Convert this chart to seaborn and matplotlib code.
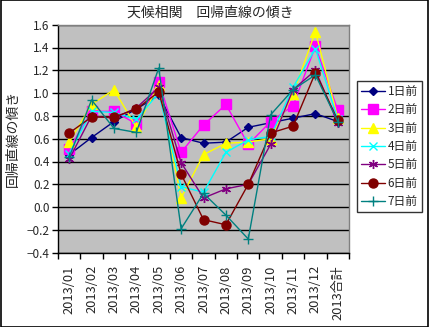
import matplotlib
matplotlib.use("Agg")
import matplotlib.pyplot as plt
import seaborn as sns
import pandas as pd
import numpy as np
from matplotlib.patches import Rectangle

categories = ["2013/01", "2013/02", "2013/03", "2013/04", "2013/05", "2013/06", "2013/07",
              "2013/08", "2013/09", "2013/10", "2013/11", "2013/12", "2013合計"]
s1 = [0.46, 0.61, 0.75, 0.86, 0.98, 0.61, 0.56, 0.57, 0.70, 0.74, 0.78, 0.82, 0.75]
s2 = [0.51, 0.84, 0.84, 0.73, 1.10, 0.48, 0.72, 0.90, 0.55, 0.75, 0.89, 1.41, 0.85]
s3 = [0.57, 0.90, 1.03, 0.70, 1.07, 0.08, 0.46, 0.56, 0.57, 0.60, 0.99, 1.54, 0.78]
s4 = [0.47, 0.84, 0.83, 0.77, 1.00, 0.18, 0.13, 0.48, 0.59, 0.62, 1.05, 1.39, 0.77]
s5 = [0.42, 0.80, 0.78, 0.87, 1.05, 0.39, 0.08, 0.16, 0.20, 0.55, 1.03, 1.20, 0.74]
s6 = [0.65, 0.79, 0.79, 0.86, 1.01, 0.29, -0.11, -0.155, 0.20, 0.65, 0.71, 1.18, 0.76]
s7 = [0.44, 0.94, 0.69, 0.655, 1.22, -0.19, 0.12, -0.07, -0.28, 0.81, 1.03, 1.16, 0.75]
series_names = ["1日前", "2日前", "3日前", "4日前", "5日前", "6日前", "7日前"]
series_values = [s1, s2, s3, s4, s5, s6, s7]

title = "天候相関　回帰直線の傾き"
ylabel = "回帰直線の傾き"

sns.set_theme(style="white")
plt.rcParams['font.family'] = ['Noto Sans CJK JP', 'DejaVu Sans']
plt.rcParams['axes.unicode_minus'] = True

colors = ["#000080", "#FF00FF", "#FFFF00", "#00FFFF", "#800080", "#800000", "#008080"]
markers = ["D", "s", "^", "x", (6, 2, 0), "o", "+"]
msizes = [4.5, 6.5, 6.5, 5.5, 6.5, 6.5, 7]

fig = plt.figure(figsize=(4.29, 3.27), dpi=100)
ax = fig.add_axes([58/429, 1-252.7/327, (349-58)/429, (252.7-24.7)/327])
ax.set_facecolor("#C0C0C0")

x = np.arange(len(categories))
for name, vals, c, m, ms in zip(series_names, series_values, colors, markers, msizes):
    df = pd.DataFrame({"x": x, "y": vals})
    sns.lineplot(data=df, x="x", y="y", ax=ax, color=c, marker=m, markersize=ms,
                 markeredgecolor=c, markerfacecolor=c, markeredgewidth=1.0,
                 linewidth=1.0, label=name, legend=False)

ax.set_xlim(-0.5, len(categories) - 0.5)
ax.set_ylim(-0.4, 1.6)
yt = np.arange(-0.4, 1.61, 0.2)
ax.set_yticks(yt)
ax.set_yticklabels([f"{v:.1f}".replace("-", "\u2212") for v in yt], fontsize=8.5)
ax.yaxis.grid(True, color="black", linewidth=1.0)
ax.set_axisbelow(True)
ax.set_xticks(x)
ax.set_xticklabels(categories, rotation=90, fontsize=9.3)
ax.set_xticks(np.arange(-0.5, len(categories), 1), minor=True)
ax.tick_params(axis="x", which="major", length=0, pad=9)
ax.tick_params(axis="x", which="minor", length=4, width=1, color="black", direction="out", bottom=True)
ax.tick_params(axis="y", length=4, width=1, color="black", direction="out", left=True, pad=2)
ax.set_xlabel("")
ax.set_ylabel(ylabel, fontsize=10, labelpad=5)
for sp in ["left", "bottom"]:
    ax.spines[sp].set_color("black")
    ax.spines[sp].set_linewidth(1.0)
for sp in ["top", "right"]:
    ax.spines[sp].set_color("#808080")
    ax.spines[sp].set_linewidth(1.0)

fig.text(0.49, 1 - 13/327, title, ha="center", va="center", fontsize=10)

h, l = ax.get_legend_handles_labels()
leg = fig.legend(h, l, loc="upper left", bbox_to_anchor=(357/429, 1 - 81/327),
                 fontsize=8.5, frameon=True, fancybox=False, edgecolor="black",
                 handlelength=2.0, labelspacing=0.45, borderpad=0.35, handletextpad=0.25,
                 borderaxespad=0)
leg.get_frame().set_linewidth(1.0)

fig.patches.append(Rectangle((0.0012, 0.0015), 0.997, 0.997, transform=fig.transFigure,
                             fill=False, edgecolor="black", linewidth=1.2))
fig.savefig("out.png", dpi=100, facecolor="white")
